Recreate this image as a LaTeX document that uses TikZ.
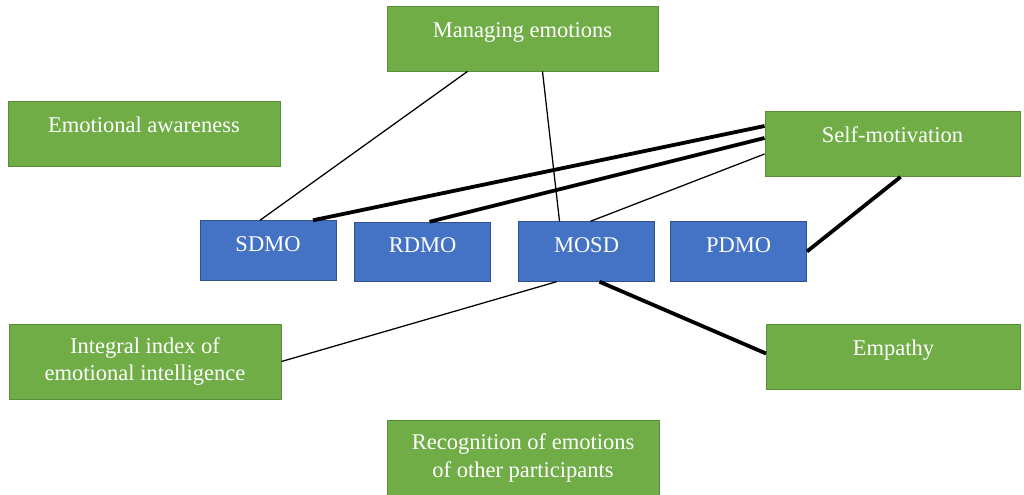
\documentclass[tikz,border=0pt]{standalone}
\usepackage{fontspec}
\setmainfont{Liberation Serif}
\definecolor{emofill}{HTML}{70AD47}
\definecolor{emoline}{HTML}{5A8F38}
\definecolor{dmofill}{HTML}{4472C4}
\definecolor{dmoline}{HTML}{2F528F}
\begin{document}
\begin{tikzpicture}[x=0.025cm, y=-0.025cm,
  every node/.style={line width=0.6pt, text=white, inner xsep=0pt, font=\fontsize{16}{19.5}\selectfont},
  emo/.style={draw=emoline, fill=emofill, minimum width=#1, inner ysep=0pt, text height=0.775cm, text depth=0.85cm},
  emo/.default=6.8cm,
  emotwo/.style={draw=emoline, fill=emofill, minimum width=6.8cm, minimum height=#1, align=center},
  dmo/.style={draw=dmoline, fill=dmofill, minimum width=3.4cm, inner ysep=0pt, text height=0.76cm, text depth=0.73cm},
  weak/.style={line width=0.9pt},
  strong/.style={line width=2.7pt}]
  \useasboundingbox (0,0) rectangle (1024,494);
  \node[emo=6.775cm] (manage) at (522.5,38.5) {Managing emotions};
  \node[emo] (aware) at (144,133.5) {Emotional awareness};
  \node[emo=6.375cm] (self) at (892.5,144) {Self-motivation};
  \node[dmo] (sdmo) at (268,250.5) {SDMO};
  \node[dmo] (rdmo) at (422.5,252) {RDMO};
  \node[dmo] (mosd) at (586.5,251.5) {MOSD};
  \node[dmo] (pdmo) at (738.5,251.5) {PDMO};
  \node[emotwo=1.875cm] (integral) at (145,361.5) {Integral index of\\emotional intelligence};
  \node[emo=6.35cm] (empathy) at (893.5,356.5) {Empathy};
  \node[emotwo=1.9cm] (recog) at (523,458) {Recognition of emotions\\of other participants};
  \draw[weak] ([shift={(-55,0)}]manage.south) -- ([shift={(-8,0)}]sdmo.north);
  \draw[weak] ([shift={(20,0)}]manage.south) -- ([shift={(-27,0)}]mosd.north);
  \draw[strong] ([shift={(0,-18)}]self.west) -- ([shift={(45,0)}]sdmo.north);
  \draw[strong] ([shift={(0,-6)}]self.west) -- ([shift={(7,0)}]rdmo.north);
  \draw[weak] ([shift={(0,10)}]self.west) -- ([shift={(4,0)}]mosd.north);
  \draw[strong] ([shift={(8,0)}]self.south) -- (pdmo.east);
  \draw[weak] ([shift={(-30,0)}]mosd.south) -- (integral.east);
  \draw[strong] ([shift={(13,0)}]mosd.south) -- ([shift={(0,-3)}]empathy.west);
\end{tikzpicture}
\end{document}
